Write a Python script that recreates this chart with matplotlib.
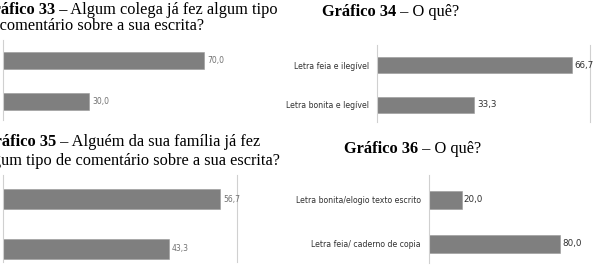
import matplotlib
matplotlib.use('Agg')
import matplotlib.pyplot as plt

# dados dos graficos
cat33 = ['', '']
val33 = [70.0, 30.0]

cat34 = ['Letra feia e ilegível', 'Letra bonita e legível']
val34 = [66.7, 33.3]

cat35 = ['', '']
val35 = [56.7, 43.3]

cat36 = ['Letra bonita/elogio texto escrito', 'Letra feia/ caderno de copia']
val36 = [20.0, 80.0]

W, H = 595, 269
fig = plt.figure(figsize=(W / 100, H / 100), dpi=100)
fig.patch.set_facecolor('white')

serif = ['Liberation Serif', 'DejaVu Serif']
narrow = ['Liberation Sans Narrow', 'DejaVu Sans']
bar_cor = '#7f7f7f'
spine_cor = '#d0d0d0'


def px(x, y):
    return x / W, 1 - y / H


def painel(x0, x1, top, bot, xmax, c0, c1, h, cats, vals, lab_cor, lab_size, right_spine=False):
    ax = fig.add_axes([x0 / W, 1 - bot / H, (x1 - x0) / W, (bot - top) / H])
    s = c1 - c0
    ax.barh(range(len(vals)), vals, height=h / s, color=bar_cor,
            edgecolor='#9a9a9a', linewidth=0.4)
    ax.set_xlim(0, xmax)
    ax.set_ylim(1 + (bot - c1) / s, -(c0 - top) / s)
    for sp in ['top', 'bottom', 'right']:
        ax.spines[sp].set_visible(False)
    ax.spines['left'].set_color(spine_cor)
    ax.spines['left'].set_linewidth(0.8)
    if right_spine:
        ax.spines['right'].set_visible(True)
        ax.spines['right'].set_color(spine_cor)
        ax.spines['right'].set_linewidth(0.8)
    ax.set_xticks([])
    ax.set_yticks(range(len(cats)))
    ax.set_yticklabels(cats, family=narrow, fontsize=5.6, color='#303030')
    ax.tick_params(axis='y', length=0, pad=6)
    ax.set_facecolor('none')
    for i, v in enumerate(vals):
        ax.text(v + xmax * 0.012, i, f'{v:.1f}'.replace('.', ','), va='center', ha='left',
                family=narrow, fontsize=lab_size, color=lab_cor)
    return ax


painel(3.3, 290, 40, 120, 100, 60.7, 101.7, 16.5, cat33, val33, '#707070', 5.5)
painel(377.3, 590, 45, 122, 72.9, 65.3, 104.7, 16, cat34, val34, '#303030', 6.3, right_spine=True)
painel(3, 237, 175, 262, 61.1, 199.2, 248.7, 20, cat35, val35, '#707070', 5.5, right_spine=True)
painel(429, 589, 175, 263, 97.7, 199.5, 243.5, 18, cat36, val36, '#303030', 6.3)

fig.canvas.draw()
r = fig.canvas.get_renderer()

TS = 11.8


def titulo(bold, normal, x_end, y_base, size=TS):
    # texto normal alinhado a direita, parte em negrito logo antes
    t = fig.text(*px(x_end, y_base), normal, ha='right', va='baseline',
                 family=serif, fontsize=size)
    bb = t.get_window_extent(renderer=r)
    if bold:
        fig.text(bb.x0 / W, 1 - y_base / H, bold, ha='right', va='baseline',
                 family=serif, fontsize=size, fontweight='bold')


def titulo_esq(bold, normal, x_start, y_base, size=TS):
    t = fig.text(*px(x_start, y_base), bold, ha='left', va='baseline',
                 family=serif, fontsize=size, fontweight='bold')
    bb = t.get_window_extent(renderer=r)
    fig.text(bb.x1 / W, 1 - y_base / H, normal, ha='left', va='baseline',
             family=serif, fontsize=size)


titulo('Gráfico 33 –', ' Algum colega já fez algum tipo', 278, 14)
titulo('', 'de comentário sobre a sua escrita?', 204, 29.5)
titulo_esq('Gráfico 34', ' – O quê?', 322, 15.5)
titulo('Gráfico 35', ' – Alguém da sua família já fez', 260, 146.5)
titulo('', 'algum tipo de comentário sobre a sua escrita?', 280, 165)
titulo_esq('Gráfico 36', ' – O quê?', 344, 153)

fig.savefig('out.png', dpi=100, facecolor='white')
